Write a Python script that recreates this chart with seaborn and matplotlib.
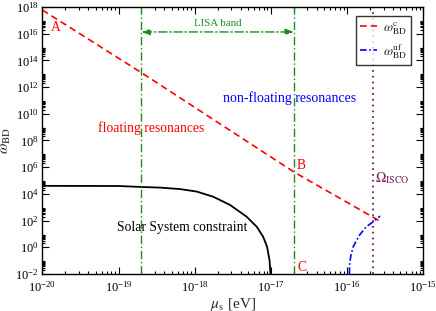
import numpy as np
import matplotlib
matplotlib.use('Agg')
import matplotlib.pyplot as plt
import matplotlib.ticker as mticker
import seaborn as sns

# 读图得到的数据
# 临界耦合 omega_BD^c (红色虚线)
mu_c = [1e-20, 2e-19, 2e-17, 2.7e-16]
omega_c = [6e17, 1.2e13, 4.4e5, 9e1]

# 非漂浮共振 omega_BD^nf (蓝色点划线)
mu_nf = [1.07e-16, 1.08e-16, 1.12e-16, 1.2e-16, 1.45e-16, 1.78e-16, 2.19e-16, 2.7e-16]
omega_nf = [1e-2, 6e-2, 2.5e-1, 1.1e0, 8e0, 3.5e1, 8e1, 2.2e2]

# 太阳系约束 (黑色实线)
mu_ss = [1e-20, 1e-19, 2e-19, 3.55e-19, 6.4e-19, 1.06e-18, 1.74e-18, 2.9e-18,
         4.8e-18, 6.5e-18, 7.9e-18, 8.9e-18, 9.6e-18, 1e-17]
omega_ss = [4e4, 3.9e4, 3.3e4, 2.95e4, 2.3e4, 1.5e4, 6.2e3, 1.5e3,
            1.95e2, 3.5e1, 6.2e0, 1.1e0, 1e-1, 3e-3]

lisa_band = [2e-19, 2e-17]
mu_isco = 2.2e-16

sns.set_theme(style='ticks')
plt.rcParams['font.family'] = ['Liberation Serif', 'DejaVu Serif']
plt.rcParams['mathtext.fontset'] = 'stix'

fig = plt.figure(figsize=(4.36, 3.11), dpi=100)
ax = fig.add_axes([0.097, 0.119, 0.874, 0.8585])

red = '#ff0000'
blue = '#0000ff'
green = '#1a8f1a'
purple = '#7b1a5e'

sns.lineplot(x=mu_c, y=omega_c, ax=ax, color=red, lw=1.2, sort=False,
             estimator=None, label=r'$\omega_{\rm BD}^{\rm c}$')
ax.lines[-1].set_linestyle((0, (4, 2.5)))
sns.lineplot(x=mu_nf, y=omega_nf, ax=ax, color=blue, lw=1.2, sort=False,
             estimator=None, label=r'$\omega_{\rm BD}^{\rm nf}$')
ax.lines[-1].set_linestyle((0, (4, 1.5, 1, 1.5)))
sns.lineplot(x=mu_ss, y=omega_ss, ax=ax, color='black', lw=1.3, sort=False,
             estimator=None, legend=False)

for m in lisa_band:
    ax.axvline(m, color=green, lw=1.0, ls=(0, (6, 2, 1, 2)))
ax.axvline(mu_isco, color=purple, lw=1.3, ls=(0, (1, 2.2)))

ax.set_xscale('log')
ax.set_yscale('log')
ax.set_xlim(1e-20, 1e-15)
ax.set_ylim(1e-2, 1e18)

# 坐标刻度（xmgrace 风格）
ax.yaxis.set_major_locator(mticker.FixedLocator([10.0 ** k for k in range(-2, 19, 2)]))
ax.yaxis.set_minor_locator(mticker.FixedLocator(
    [j * 10.0 ** k for k in range(-2, 18, 2) for j in range(2, 10)]))
ax.yaxis.set_major_formatter(mticker.LogFormatterMathtext())
ax.xaxis.set_major_locator(mticker.LogLocator(base=10, numticks=10))
ax.xaxis.set_minor_locator(mticker.LogLocator(base=10, subs=np.arange(2, 10), numticks=10))
ax.xaxis.set_minor_formatter(mticker.NullFormatter())
ax.yaxis.set_minor_formatter(mticker.NullFormatter())
ax.tick_params(which='both', direction='in', top=True, right=True, width=0.8,
               labelsize=9, colors='black')
ax.tick_params(which='major', length=5)
ax.tick_params(which='minor', length=2.5)
ax.tick_params(axis='x', pad=4)
ax.tick_params(axis='y', pad=2.5)
for s in ax.spines.values():
    s.set_linewidth(1.0)
    s.set_color('black')

ax.set_xlabel(r'$\mu_{\rm s}$ [eV]', fontsize=11, labelpad=1)
ax.set_ylabel(r'$\omega_{\rm BD}$', fontsize=11)
ax.yaxis.set_label_coords(-0.076, 0.5)

# LISA 频段箭头
ax.annotate('', xy=(lisa_band[1], 1.35e16), xytext=(lisa_band[0], 1.35e16),
            arrowprops=dict(arrowstyle='<|-|>,head_length=0.4,head_width=0.15',
                            color=green, lw=1.0, ls=(0, (6, 2, 1, 2)),
                            shrinkA=0, shrinkB=0))
ax.text(2e-18, 5.4e16, 'LISA band', color=green, fontsize=7.8, ha='center', va='center')

ax.text(1.5e-20, 2.7e16, 'A', color=red, fontsize=9.8, ha='center', va='center')
ax.text(2.2e-17, 1.45e6, 'B', color=red, fontsize=9.8, ha='left', va='center')
ax.text(2.2e-17, 3.3e-2, 'C', color=red, fontsize=9.8, ha='left', va='center')
ax.text(2.66e-19, 8.7e8, 'floating resonances', color=red, fontsize=9.8,
        ha='center', va='center')
ax.text(1.78e-17, 1.5e11, 'non-floating resonances', color=blue, fontsize=10,
        ha='center', va='center')
ax.text(6.8e-19, 33, 'Solar System constraint', color='black', fontsize=9.8,
        ha='center', va='center')
ax.text(2.35e-16, 1.55e5, r'$\Omega_{\rm ISCO}$', color=purple, fontsize=10,
        ha='left', va='center')

leg = ax.legend(loc='upper right', bbox_to_anchor=(0.9677, 0.966), borderaxespad=0,
                fontsize=9.5, frameon=True, fancybox=False, handlelength=1.25,
                handletextpad=0.5, borderpad=0.3, labelspacing=0.4)
leg.get_frame().set_edgecolor('black')
leg.get_frame().set_linewidth(1.0)

fig.savefig('out.png', dpi=100)
